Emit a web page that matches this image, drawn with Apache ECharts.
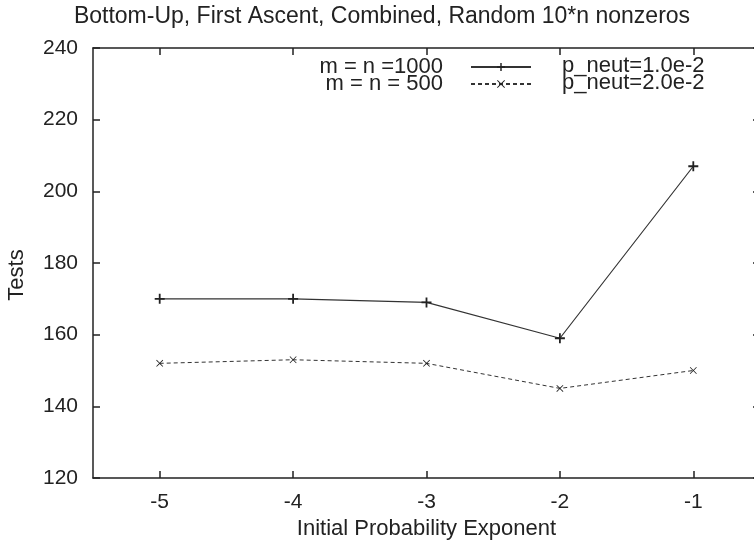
<!DOCTYPE html>
<html>
<head>
<meta charset="utf-8">
<script src="https://cdn.jsdelivr.net/npm/echarts@6/dist/echarts.min.js"></script>
<style>
  html, body { margin: 0; padding: 0; background: #fff; }
  #chart { width: 754px; height: 549px; }
</style>
</head>
<body>
<div id="chart"></div>
<script>
const exponents = ['-5', '-4', '-3', '-2', '-1']
const tests1000 = [170, 170, 169, 159, 207]
const tests500 = [152, 153, 152, 145, 150]
const seriesNames = ['m = n =1000', 'm = n = 500']
const legendNotes = ['p_neut=1.0e-2', 'p_neut=2.0e-2']

const ink = '#222'
const font = 'Liberation Sans, Arial, sans-serif'
const plusSymbol = 'path://M4.1,0H5.9V4.1H10V5.9H5.9V10H4.1V5.9H0V4.1H4.1Z'
const crossSymbol = 'path://M0.8,0L5,4.2L9.2,0L10,0.8L5.8,5L10,9.2L9.2,10L5,5.8L0.8,10L0,9.2L4.2,5L0,0.8Z'

const chart = echarts.init(document.getElementById('chart'))

const axisLine = { show: true, lineStyle: { color: ink, width: 1.5 } }
const axisTick = { show: true, inside: true, length: 7, alignWithLabel: true, lineStyle: { color: ink, width: 1.5 } }

const option = {
  animation: false,
  backgroundColor: '#fff',
  title: {
    text: 'Bottom-Up, First Ascent, Combined, Random 10*n nonzeros',
    left: 377,
    textAlign: 'center',
    top: 0,
    textStyle: { fontFamily: font, fontSize: 23, fontWeight: 'normal', color: ink }
  },
  grid: { left: 93, top: 48, width: 667, height: 430, containLabel: false, outerBoundsMode: 'none' },
  legend: {
    orient: 'vertical',
    align: 'right',
    right: 217,
    top: 51,
    itemWidth: 60,
    itemHeight: 10,
    itemGap: -5,
    data: seriesNames,
    textStyle: { fontFamily: font, fontSize: 22, color: ink, padding: [0, 23, 0, 0] }
  },
  graphic: legendNotes.map((t, i) => ({
    type: 'text',
    x: 562,
    y: 66 + i * 17,
    style: { text: t, fontFamily: font, fontSize: 22, fill: ink, verticalAlign: 'middle' }
  })).concat([{
    type: 'text',
    x: 17,
    y: 275,
    rotation: Math.PI / 2,
    style: { text: 'Tests', fontFamily: font, fontSize: 22, fill: ink, align: 'center', verticalAlign: 'middle' }
  }]),
  xAxis: [
    {
      type: 'category',
      data: exponents,
      boundaryGap: true,
      name: 'Initial Probability Exponent',
      nameLocation: 'middle',
      nameGap: 34,
      nameTextStyle: { fontFamily: font, fontSize: 22, color: ink },
      axisLine: axisLine,
      axisTick: axisTick,
      splitLine: { show: false },
      axisLabel: { margin: 14, fontFamily: font, fontSize: 21, color: ink }
    },
    {
      type: 'category',
      data: exponents,
      boundaryGap: true,
      position: 'top',
      axisLine: axisLine,
      axisTick: axisTick,
      splitLine: { show: false },
      axisLabel: { show: false }
    }
  ],
  yAxis: [
    {
      type: 'value',
      min: 120,
      max: 240,
      interval: 20,
      axisLine: axisLine,
      axisTick: axisTick,
      splitLine: { show: false },
      axisLabel: { margin: 15, fontFamily: font, fontSize: 21, color: ink }
    },
    {
      type: 'value',
      min: 120,
      max: 240,
      interval: 20,
      position: 'right',
      axisLine: axisLine,
      axisTick: axisTick,
      splitLine: { show: false },
      axisLabel: { show: false }
    }
  ],
  series: [
    {
      name: seriesNames[0],
      type: 'line',
      data: tests1000,
      symbol: plusSymbol,
      symbolSize: 10,
      itemStyle: { color: ink },
      lineStyle: { color: '#333', width: 1.2 }
    },
    {
      name: seriesNames[1],
      type: 'line',
      data: tests500,
      symbol: crossSymbol,
      symbolSize: 7,
      itemStyle: { color: ink },
      lineStyle: { color: '#333', width: 1, type: [4, 3] }
    }
  ]
}

chart.setOption(option)
</script>
</body>
</html>
